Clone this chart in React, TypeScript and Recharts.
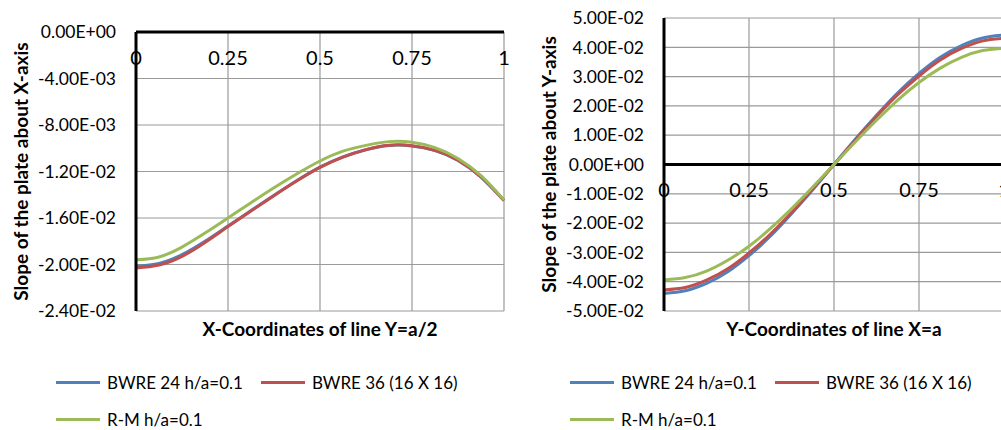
import React from 'react';
import {
  LineChart, Line, XAxis, YAxis, CartesianGrid, ReferenceLine, Legend,
} from 'recharts';

// positions along the line, a/16 apart
const positions = [0, 0.0625, 0.125, 0.1875, 0.25, 0.3125, 0.375, 0.4375, 0.5, 0.5625, 0.625, 0.6875, 0.75, 0.8125, 0.875, 0.9375, 1];
const xTicks = [0, 0.25, 0.5, 0.75, 1];

// slope about X-axis along Y=a/2
const slopeX_bwre24 = [-0.02015, -0.0199, -0.01915, -0.018, -0.01668, -0.01536, -0.01405, -0.01278, -0.01163, -0.01075, -0.01013, -0.00976, -0.0098, -0.0102, -0.01104, -0.01248, -0.0145];
const slopeX_bwre36 = [-0.0203, -0.02005, -0.0193, -0.0181, -0.01674, -0.0154, -0.01408, -0.0128, -0.01165, -0.01076, -0.01012, -0.00974, -0.00978, -0.01018, -0.01102, -0.01246, -0.0145];
const slopeX_rm = [-0.0196, -0.01935, -0.0185, -0.0173, -0.016, -0.01468, -0.0134, -0.0122, -0.0111, -0.01025, -0.00975, -0.00943, -0.00948, -0.00995, -0.01088, -0.01236, -0.01445];
const slopeXTicks = [0, -0.004, -0.008, -0.012, -0.016, -0.02, -0.024];

// slope about Y-axis along X=a
const slopeY_bwre24 = [-0.044, -0.0431, -0.0406, -0.0366, -0.0311, -0.0245, -0.0168, -0.0086, 0, 0.0086, 0.0168, 0.0245, 0.0311, 0.0366, 0.0406, 0.0432, 0.0442];
const slopeY_bwre36 = [-0.0428, -0.042, -0.0395, -0.0356, -0.0302, -0.0238, -0.0164, -0.0083, 0, 0.0083, 0.0164, 0.0238, 0.0302, 0.0357, 0.0396, 0.0422, 0.0431];
const slopeY_rm = [-0.0394, -0.0386, -0.0364, -0.0327, -0.0279, -0.0219, -0.0151, -0.0077, 0, 0.0077, 0.0151, 0.022, 0.028, 0.0329, 0.0366, 0.0389, 0.0397];
const slopeYTicks = [0.05, 0.04, 0.03, 0.02, 0.01, 0, -0.01, -0.02, -0.03, -0.04, -0.05];

const seriesNames = ['BWRE 24 h/a=0.1', 'BWRE 36 (16 X 16)', 'R-M h/a=0.1'];
const seriesColors = ['#4F81BD', '#C0504D', '#9BBB59'];

const FONT = 'Lato, "Open Sans", sans-serif';

const sci = (v: number) => {
  const [m, e] = v.toExponential(2).split('e');
  const n = Number(e);
  return `${m}E${n < 0 ? '-' : '+'}${String(Math.abs(n)).padStart(2, '0')}`;
};

const buildRows = (a: number[], b: number[], c: number[]) =>
  positions.map((x, i) => ({ x, s0: a[i], s1: b[i], s2: c[i] }));

const LegendBox = ({ payload }: any) => (
  <div style={{ width: 430, fontFamily: FONT, fontSize: 17, color: '#000' }}>
    {(payload || []).map((p: any) => (
      <div key={p.value} style={{ display: 'inline-flex', alignItems: 'center', height: 37, marginRight: 18 }}>
        <span style={{ display: 'inline-block', width: 44, height: 3, background: p.color, marginRight: 7 }} />
        <span>{p.value}</span>
      </div>
    ))}
  </div>
);

type PanelProps = {
  rows: any[];
  yTicks: number[];
  yDomain: [number, number];
  yTitle: string;
  xTitle: string;
  width: number;
  margin: { top: number; right: number; bottom: number; left: number };
  yAxisWidth: number;
  yTitleX: number;
  tickY: number;
  legendLeft: number;
};

const Panel = (p: PanelProps) => (
  <LineChart width={p.width} height={430} data={p.rows} margin={p.margin}>
    <CartesianGrid stroke="#9a9a9a" strokeWidth={1.2} />
    <XAxis
      dataKey="x"
      type="number"
      domain={[0, 1]}
      ticks={xTicks}
      interval={0}
      height={30}
      axisLine={false}
      tickLine={false}
      tick={(t: any) => (
        <text x={t.x} y={p.tickY} textAnchor="middle" dominantBaseline="central"
          fontFamily={FONT} fontSize={20} fill="#000">
          {t.payload.value}
        </text>
      )}
      label={{
        content: ({ viewBox }: any) => (
          <text x={viewBox.x + viewBox.width / 2} y={viewBox.y + 17} textAnchor="middle"
            dominantBaseline="central" fontFamily={FONT} fontSize={19} fontWeight="bold" fill="#000">
            {p.xTitle}
          </text>
        ),
      }}
    />
    <YAxis
      type="number"
      domain={p.yDomain}
      ticks={p.yTicks}
      interval={0}
      width={p.yAxisWidth}
      tickFormatter={sci}
      axisLine={{ stroke: '#000', strokeWidth: 3 }}
      tickLine={false}
      tickMargin={14}
      tick={{ fontFamily: FONT, fontSize: 17.5, fill: '#000' }}
      label={{
        content: ({ viewBox }: any) => {
          const cx = viewBox.x + p.yTitleX;
          const cy = viewBox.y + viewBox.height / 2;
          return (
            <text x={cx} y={cy} transform={`rotate(-90, ${cx}, ${cy})`} textAnchor="middle"
              dominantBaseline="central" fontFamily={FONT} fontSize={19} fontWeight="bold" fill="#000">
              {p.yTitle}
            </text>
          );
        },
      }}
    />
    <ReferenceLine y={0} stroke="#000" strokeWidth={3} />
    {seriesNames.map((name, i) => (
      <Line
        key={name}
        dataKey={`s${i}`}
        name={name}
        type="natural"
        stroke={seriesColors[i]}
        strokeWidth={3}
        dot={false}
        isAnimationActive={false}
      />
    ))}
    <Legend
      layout="horizontal"
      verticalAlign="middle"
      align="center"
      wrapperStyle={{ left: p.legendLeft, top: 364, width: 430 }}
      content={<LegendBox />}
    />
  </LineChart>
);

export default function App() {
  return (
    <div style={{ position: 'absolute', left: 0, top: 0, width: 1001, height: 430, overflow: 'hidden', background: '#fff' }}>
      <div style={{ position: 'absolute', left: 0, top: 0 }}>
        <Panel
          rows={buildRows(slopeX_bwre24, slopeX_bwre36, slopeX_rm)}
          yTicks={slopeXTicks}
          yDomain={[-0.024, 0]}
          yTitle="Slope of the plate about X-axis"
          xTitle="X-Coordinates of line Y=a/2"
          width={520}
          margin={{ top: 32, right: 16, bottom: 89, left: 0 }}
          yAxisWidth={136}
          yTitleX={20}
          tickY={57}
          legendLeft={56}
        />
      </div>
      <div style={{ position: 'absolute', left: 520, top: 0 }}>
        <Panel
          rows={buildRows(slopeY_bwre24, slopeY_bwre36, slopeY_rm)}
          yTicks={slopeYTicks}
          yDomain={[-0.05, 0.05]}
          yTitle="Slope of the plate about Y-axis"
          xTitle="Y-Coordinates of line X=a"
          width={520}
          margin={{ top: 18, right: 36, bottom: 89, left: 0 }}
          yAxisWidth={144}
          yTitleX={28}
          tickY={189}
          legendLeft={50}
        />
      </div>
    </div>
  );
}
